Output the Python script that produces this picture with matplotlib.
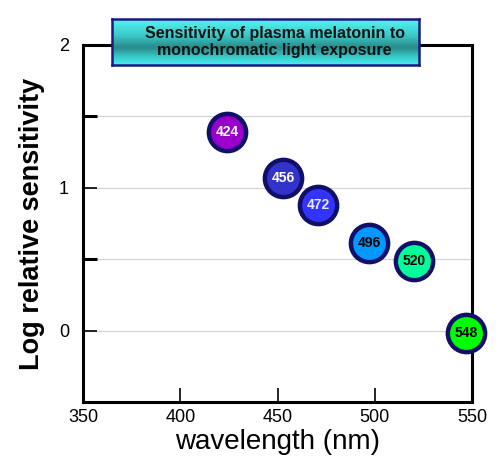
import matplotlib
matplotlib.use("Agg")
import matplotlib.pyplot as plt
import numpy as np
from matplotlib.colors import LinearSegmentedColormap

plt.rcParams['font.family'] = ['Liberation Sans', 'DejaVu Sans']

labels = ["424", "456", "472", "496", "520", "548"]
wavelength = [424, 453, 471, 497, 520, 547]
log_sens = [1.39, 1.07, 0.88, 0.61, 0.49, -0.02]
fill_colors = ["#9900cc", "#3333cc", "#3333ff", "#0099ff", "#00ff99", "#00ff00"]
text_colors = ["white", "white", "#e8e8ff", "black", "black", "black"]
xticks = [350, 400, 450, 500, 550]
yticks = [0, 1, 2]
title = "Sensitivity of plasma melatonin to\nmonochromatic light exposure"

W, H = 500, 468
fig = plt.figure(figsize=(5, 4.68), dpi=100)
ax = fig.add_axes([83 / W, 1 - 402 / H, (472 - 83) / W, (402 - 45) / H])
ax.set_xlim(350, 550)
ax.set_ylim(-0.5, 2)

for y in [0, 0.5, 1, 1.5]:
    ax.axhline(y, color="#d4d4d4", lw=0.9, zorder=0)

for x, y, lab, fc, tc in zip(wavelength, log_sens, labels, fill_colors, text_colors):
    ax.scatter([x], [y], s=720, c=fc, edgecolors="#10106a", linewidths=3.2,
               zorder=3, clip_on=False)
    ax.text(x, y, lab, ha="center", va="center", fontsize=10, fontweight="bold",
            color=tc, zorder=4)

for s in ax.spines.values():
    s.set_linewidth(2.2)
    s.set_color("black")

ax.set_xticks(xticks)
ax.set_yticks(yticks)
ax.set_yticks([0.5, 1.5], minor=True)
ax.tick_params(axis="both", which="major", direction="in", length=10, width=1.2,
               labelsize=13)
ax.tick_params(axis="x", which="major", pad=5)
ax.tick_params(axis="y", which="major", pad=10)
ax.tick_params(axis="y", which="minor", direction="in", length=10, width=2.2)
ax.tick_params(axis="x", which="major", top=False)

ax.set_xlabel("wavelength (nm)", fontsize=20, labelpad=2)
ax.set_ylabel("Log relative sensitivity", fontsize=19.5, fontweight="bold", labelpad=10)

# title box with gradient
bx0, bx1, by0, by1 = 112 / W, 419 / W, 1 - 65 / H, 1 - 19 / H
bax = fig.add_axes([bx0, by0, bx1 - bx0, by1 - by0])
cmap = LinearSegmentedColormap.from_list(
    "g", [(0, "#55f5f5"), (0.35, "#3cc8c8"), (0.62, "#2a8a8a"), (0.85, "#3ad0d0"), (1, "#48eeee")])
vals = np.linspace(0, 1, 100).reshape(-1, 1)
bax.imshow(vals, aspect="auto", cmap=cmap, extent=[0, 1, 0, 1], origin="upper")
bax.set_xlim(0, 1)
bax.set_ylim(0, 1)
bax.set_xticks([])
bax.set_yticks([])
for s in bax.spines.values():
    s.set_linewidth(1.8)
    s.set_color("#1a1a80")
bax.text(0.53, 0.5, title, ha="center", va="center", fontsize=11.5, fontweight="bold",
         color="#111111", linespacing=1.2)

fig.savefig("out.png", dpi=100)
